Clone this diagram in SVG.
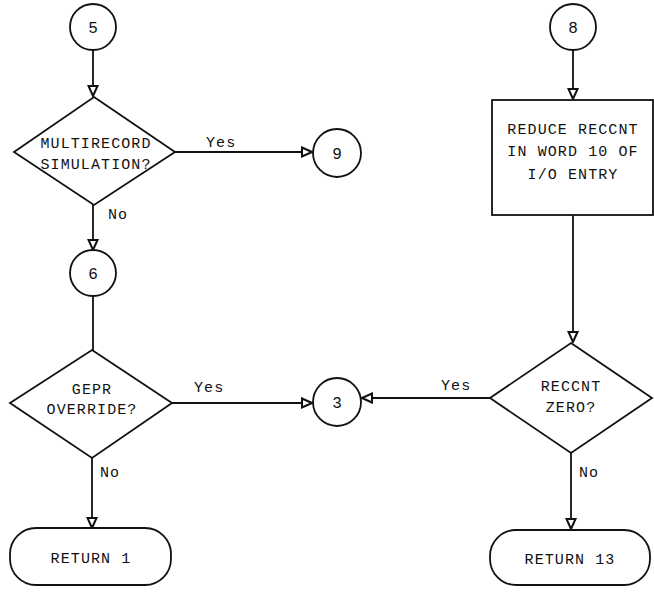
<svg xmlns="http://www.w3.org/2000/svg" width="654" height="592" viewBox="0 0 654 592">
<style>
.s{fill:#fff;stroke:#111;stroke-width:1.8}
.c{fill:none;stroke:#111;stroke-width:1.8}
text{font-family:"Liberation Mono","DejaVu Sans Mono",monospace;font-size:15px;fill:#111;letter-spacing:1.1px}
.m{text-anchor:middle}
.n{font-size:16px;letter-spacing:0}
</style>
<defs>
<marker id="a" viewBox="0 0 12 12" refX="11" refY="6" markerWidth="12" markerHeight="12" markerUnits="userSpaceOnUse" orient="auto">
<path d="M1,1.5 L11,6 L1,10.5 Z" fill="#fff" stroke="#111" stroke-width="2"/>
</marker>
</defs>
<rect width="654" height="592" fill="#fff"/>
<g id="connectors">
<path class="c" d="M93,50 V96" marker-end="url(#a)"/>
<path class="c" d="M175,152 H312" marker-end="url(#a)"/>
<path class="c" d="M93,205 V250" marker-end="url(#a)"/>
<path class="c" d="M93,296 V350"/>
<path class="c" d="M172,403 H312" marker-end="url(#a)"/>
<path class="c" d="M92,458 V528" marker-end="url(#a)"/>
<path class="c" d="M573,50 V99" marker-end="url(#a)"/>
<path class="c" d="M573,215 V342" marker-end="url(#a)"/>
<path class="c" d="M490,398 H362" marker-end="url(#a)"/>
<path class="c" d="M571,453 V529" marker-end="url(#a)"/>
<text x="206" y="147">Yes</text>
<text x="108" y="219">No</text>
<text x="194" y="392">Yes</text>
<text x="100" y="477">No</text>
<text x="441" y="390">Yes</text>
<text x="579" y="477">No</text>
</g>
<g id="n5"><circle class="s" cx="93" cy="27" r="23"/><text class="m n" x="93" y="33">5</text></g>
<g id="d1"><path class="s" d="M94,97 L175,152 L94,205 L14,152 Z"/><text class="m" x="96" y="148">MULTIRECORD</text><text class="m" x="96" y="169">SIMULATION?</text></g>
<g id="n9"><circle class="s" cx="337" cy="153" r="24"/><text class="m n" x="337" y="159">9</text></g>
<g id="n6"><circle class="s" cx="93" cy="273" r="23"/><text class="m n" x="93" y="279">6</text></g>
<g id="d2"><path class="s" d="M92,350 L172,403 L92,458 L10,403 Z"/><text class="m" x="92" y="394">GEPR</text><text class="m" x="92" y="414">OVERRIDE?</text></g>
<g id="n3"><circle class="s" cx="337" cy="402" r="24"/><text class="m n" x="337" y="408">3</text></g>
<g id="r1"><rect class="s" x="10" y="528" width="161" height="57" rx="26"/><text class="m" x="91" y="563">RETURN 1</text></g>
<g id="n8"><circle class="s" cx="573" cy="27" r="23"/><text class="m n" x="573" y="33">8</text></g>
<g id="b1"><rect class="s" x="492" y="100" width="161" height="115"/><text class="m" x="573" y="134">REDUCE RECCNT</text><text class="m" x="573" y="156">IN WORD 10 OF</text><text class="m" x="573" y="179">I/O ENTRY</text></g>
<g id="d3"><path class="s" d="M571,343 L652,398 L571,453 L490,398 Z"/><text class="m" x="571" y="391">RECCNT</text><text class="m" x="571" y="412">ZERO?</text></g>
<g id="r13"><rect class="s" x="490" y="530" width="160" height="55" rx="26"/><text class="m" x="570" y="564">RETURN 13</text></g>
</svg>
